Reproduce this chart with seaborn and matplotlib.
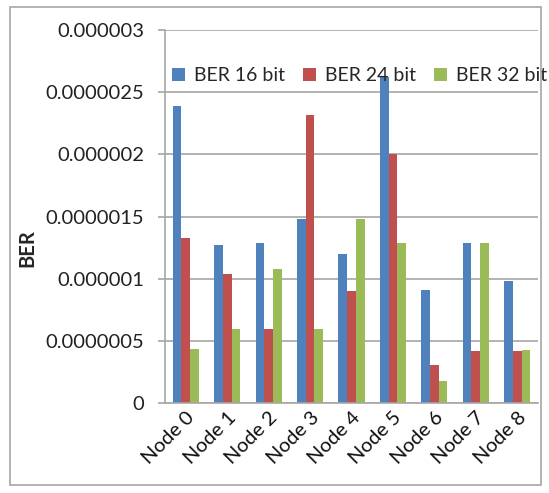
import pandas as pd
import matplotlib.pyplot as plt
import seaborn as sns
from matplotlib.patches import Rectangle
from matplotlib.ticker import FixedLocator

# data
nodes = ['Node 0', 'Node 1', 'Node 2', 'Node 3', 'Node 4',
         'Node 5', 'Node 6', 'Node 7', 'Node 8']
series = ['BER 16 bit', 'BER 24 bit', 'BER 32 bit']
ber_16 = [2.39e-6, 1.27e-6, 1.29e-6, 1.48e-6, 1.20e-6, 2.62e-6, 0.91e-6, 1.29e-6, 0.98e-6]
ber_24 = [1.33e-6, 1.04e-6, 0.60e-6, 2.32e-6, 0.90e-6, 2.00e-6, 0.31e-6, 0.42e-6, 0.42e-6]
ber_32 = [0.44e-6, 0.60e-6, 1.08e-6, 0.60e-6, 1.48e-6, 1.29e-6, 0.18e-6, 1.29e-6, 0.43e-6]
y_ticks = [0, 0.0000005, 0.000001, 0.0000015, 0.000002, 0.0000025, 0.000003]
y_tick_labels = ['0', '0.0000005', '0.000001', '0.0000015', '0.000002', '0.0000025', '0.000003']

df = pd.DataFrame({'node': nodes, series[0]: ber_16, series[1]: ber_24, series[2]: ber_32})
df = df.melt(id_vars='node', var_name='series', value_name='ber')

sns.set_style('white')
plt.rcParams['font.family'] = ['Lato', 'DejaVu Sans']

fig = plt.figure(figsize=(5.49, 4.93), dpi=100)
ax = fig.add_axes([0.3005, 0.182, 0.6795, 0.757])

colors = ['#4F81BD', '#C0504D', '#9BBB59']
sns.barplot(data=df, x='node', y='ber', hue='series', palette=colors,
            width=0.63, ax=ax, saturation=1, edgecolor='none', legend=True)

ax.set_xlim(-0.5, 8.5)
ax.set_ylim(0, 0.000003)
ax.set_yticks(y_ticks)
ax.set_yticklabels(y_tick_labels, fontsize=14.5, color='#222222')
ax.yaxis.grid(True, color='#A6A6A6', linewidth=1.2)
ax.set_axisbelow(True)

# tick marks between categories, labels at category centres
ax.xaxis.set_minor_locator(FixedLocator([i - 0.5 for i in range(len(nodes) + 1)]))
ax.tick_params(axis='x', which='major', length=0, pad=4)
ax.tick_params(axis='x', which='minor', length=6, color='#A6A6A6', width=1.2)
ax.tick_params(axis='y', length=5, color='#A6A6A6', width=1.2, pad=10, left=True)
plt.setp(ax.get_xticklabels(), rotation=45, ha='right', rotation_mode='anchor',
         fontsize=14.5, color='#111111')

for s in ['top', 'right']:
    ax.spines[s].set_visible(False)
for s in ['left', 'bottom']:
    ax.spines[s].set_color('#A6A6A6')
    ax.spines[s].set_linewidth(1.2)

ax.set_xlabel('')
ax.set_ylabel('BER', fontsize=14.5, fontweight='bold')
ax.yaxis.set_label_coords(-0.343, 0.416)

handles, labels = ax.get_legend_handles_labels()
ax.legend(handles, labels, ncol=3, frameon=False, fontsize=14,
          loc='center', bbox_to_anchor=(0.655, 0.847), bbox_transform=fig.transFigure,
          handlelength=0.65, handleheight=0.65, handletextpad=0.45, columnspacing=0.95)

# outer chart border
fig.patches.append(Rectangle((0.018, 0.016), 0.967, 0.970, transform=fig.transFigure,
                             fill=False, edgecolor='#A6A6A6', linewidth=1.2))

fig.savefig('out.png', dpi=100)
